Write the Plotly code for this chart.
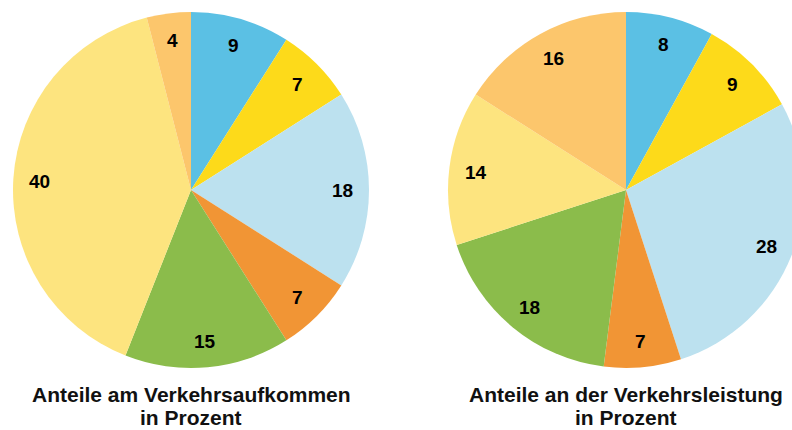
import math
import plotly.graph_objects as go

categories = ["A", "B", "C", "D", "E", "F", "G"]
aufkommen = [9, 7, 18, 7, 15, 40, 4]
leistung = [8, 9, 28, 7, 18, 14, 16]
colors = ["#5BC0E4", "#FDDA1A", "#BCE1EF", "#F19535", "#8BBC4B", "#FDE47F", "#FCC66C"]
title_lines = [["Anteile am Verkehrsaufkommen", "in Prozent"],
               ["Anteile an der Verkehrsleistung", "in Prozent"]]

W, H = 810, 430
R = 178
CY = 190
centers_x = [191, 626]
label_frac = 0.85
title_y = [394, 417]

fig = go.Figure()
annotations = []
for i, vals in enumerate([aufkommen, leistung]):
    cx = centers_x[i]
    fig.add_trace(go.Pie(
        labels=categories, values=vals, sort=False, direction="clockwise",
        rotation=0, marker=dict(colors=colors, line=dict(width=0)),
        textinfo="none", hoverinfo="label+value", showlegend=False,
        domain=dict(x=[(cx - R) / W, (cx + R) / W],
                    y=[(H - CY - R) / H, (H - CY + R) / H]),
    ))
    total = sum(vals)
    cum = 0
    for v in vals:
        theta = math.radians((cum + v / 2) / total * 360)
        cum += v
        px = cx + label_frac * R * math.sin(theta)
        py = CY - label_frac * R * math.cos(theta) + 1
        annotations.append(dict(
            x=px / W, y=1 - py / H, xref="paper", yref="paper",
            xanchor="center", yanchor="middle",
            text=f"<b>{v}</b>", showarrow=False,
            font=dict(family="Liberation Sans, Arial", size=19, color="black"),
        ))
    for line, ty in zip(title_lines[i], title_y):
        annotations.append(dict(
            x=cx / W, y=1 - ty / H, xref="paper", yref="paper",
            text=f"<b>{line}</b>", showarrow=False,
            font=dict(family="Liberation Sans, Arial", size=21, color="#111111"),
            align="center", xanchor="center", yanchor="middle",
        ))

fig.update_layout(
    width=W, height=H, margin=dict(l=0, r=0, t=0, b=0),
    paper_bgcolor="white", plot_bgcolor="white",
    annotations=annotations,
)
fig.write_html(
    "out.html",
    config={"displayModeBar": False},
    post_script="document.body.style.margin='0';document.body.style.overflow='hidden';",
)
